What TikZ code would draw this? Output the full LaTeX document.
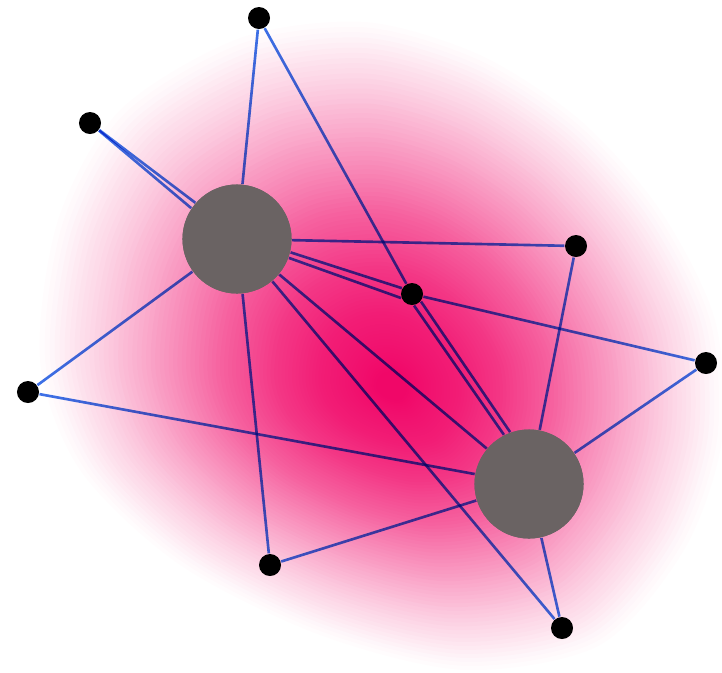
\documentclass[tikz,border=0pt]{standalone}
\usetikzlibrary{positioning}

\definecolor{hotpink}{RGB}{240,0,100}
\definecolor{hubgray}{RGB}{106,99,99}
\definecolor{linkblue}{RGB}{62,112,230}

\tikzset{
  hub/.style={circle,fill=hubgray,minimum size=1.09cm,inner sep=0pt},
  dot/.style={circle,fill=black,minimum size=0.22cm,inner sep=0pt},
  link/.style={linkblue,line width=0.75pt}
}

\begin{document}
\begin{tikzpicture}[x=0.01cm,y=-0.01cm]
        \useasboundingbox (0,0) rectangle (722,672);
        % Draw pink cloud
        \foreach \k in {0,...,99} {
            \pgfmathsetmacro\s{(1-\k/100)^1.45}
            \pgfmathsetmacro\o{0.012+0.06*\k/100}
            \fill[hotpink,opacity=\o,shift={(392,388)},scale=\s,shift={(-392,-388)}]
                plot[smooth cycle] coordinates {(120,110) (240,38) (365,22) (480,55) (580,120)
                (660,210) (715,320) (722,440) (684,550) (600,645) (465,670) (320,635)
                (180,565) (80,470) (40,360) (58,220)};
        }

        % Draw nodes
        \node[hub] (A) at (237,239) {};
        \node[hub] (B) at (529,484) {};
        \node[dot] (top) at (259,18) {};
        \node[dot] (ul) at (90,123) {};
        \node[dot] (ur) at (576,246) {};
        \node[dot] (mid) at (412,294) {};
        \node[dot] (far) at (706,363) {};
        \node[dot] (left) at (28,392) {};
        \node[dot] (low) at (270,565) {};
        \node[dot] (bot) at (562,628) {};

        % Draw links
        \begin{scope}[blend mode=multiply]
        \draw[link] (A) -- (top);
        \draw[link] (ul) -- (A.146);
        \draw[link] (ul) -- (A.139);
        \draw[link] (A) -- (ur);
        \draw[link] (A.-14) -- (mid.150);
        \draw[link] (A.-20) -- (mid.200);
        \draw[link] (top) -- (mid);
        \draw[link] (mid) -- (far);
        \draw[link] (mid.-40) -- (B.110);
        \draw[link] (mid.-80) -- (B.117);
        \draw[link] (A) -- (left);
        \draw[link] (left) -- (B);
        \draw[link] (A) -- (low);
        \draw[link] (low) -- (B);
        \draw[link] (A) -- (B);
        \draw[link] (A) -- (bot);
        \draw[link] (B) -- (bot);
        \draw[link] (ur) -- (B);
        \draw[link] (far) -- (B);
        \end{scope}

        % Redraw hubs on top
        \node[hub] at (A) {};
        \node[hub] at (B) {};
\end{tikzpicture}
\end{document}
